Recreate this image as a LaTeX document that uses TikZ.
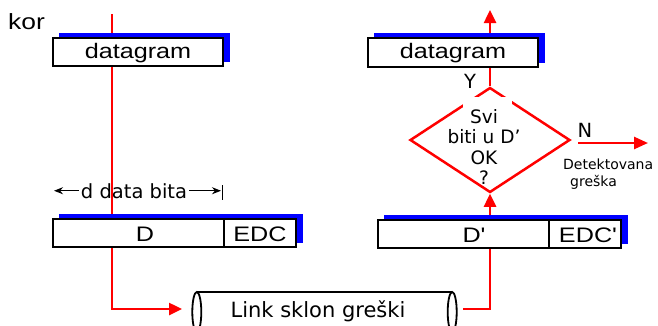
\documentclass[tikz,border=0pt]{standalone}
\usepackage{fontspec}
\setmainfont{Liberation Sans}
\newfontfamily\arialw[FakeStretch=1.2]{Liberation Sans}
\newfontfamily\comic{DejaVu Sans}
\usetikzlibrary{shapes.geometric,arrows.meta,shadows}
\begin{document}
\begin{tikzpicture}[x=1pt,y=-1pt,
  redline/.style={draw=red,line width=2.5pt},
  redtip/.style={-{Triangle[length=13pt,width=12pt]}},
  bshadow/.style={general shadow={fill=blue,draw=blue,line width=0pt,shadow xshift=6.5pt,shadow yshift=4.5pt}},
  framebox/.style={draw=black,line width=1.8pt,fill=white,inner sep=0pt,minimum height=28pt,bshadow},
  cell/.style={draw=black,line width=1.8pt,fill=white,inner sep=0pt,minimum height=28pt},
  boxtext/.style={font=\arialw\fontsize{21}{21}\selectfont,inner sep=0pt,text height=16pt,text depth=0pt},
  comictext/.style={font=\comic\fontsize{#1}{#1}\selectfont,inner sep=0pt},
  blackarrow/.style={line width=1pt,-{Stealth[length=9pt,width=7pt]}}
]
\useasboundingbox (0,0) rectangle (658,325);
\clip (0,0) rectangle (658,325);

% shapes used as endpoints
\node[draw=red,line width=2.5pt,diamond,minimum width=160pt,minimum height=105pt,inner sep=0pt] (dia) at (490,140) {};
\node[inner sep=0pt,minimum width=255pt,minimum height=40pt] (link) at (324.5,312) {};

\coordinate (inL) at (112,14);
\coordinate (linkin) at (182,309);
\coordinate (linkout) at (463,309);
\coordinate (outtop) at (490,10);
\coordinate (nstart) at (578,143);
\coordinate (nend) at (648,143);

% red connectors (drawn under the boxes)
\draw[redline,redtip] (inL) |- (linkin);
\draw[redline,redtip] (linkout) -| (dia.south);
\draw[redline,redtip] (dia.north) -- (outtop);
\draw[redline,-{Triangle[length=14pt,width=12pt]}] (nstart) -- (nend);

% left column boxes
\node[framebox,minimum width=170pt,boxtext,text height=15pt,text depth=3pt] (dgL) at (138,52) {datagram};
\node[framebox,minimum width=243pt] (frL) at (174.5,233) {};
\node[cell,minimum width=72pt,boxtext] (edcL) at (260,233) {EDC};
\node[boxtext] (dL) at (145,233) {D};

% right column boxes
\node[framebox,minimum width=170pt,minimum height=29pt,boxtext,text height=15pt,text depth=3pt] (dgR) at (453,52.5) {datagram};
\node[framebox,minimum width=243pt] (frR) at (499.5,234) {};
\node[cell,minimum width=72pt] (edcR) at (585,234) {};
\node[boxtext] (edcRt) at (588,234) {EDC\char"0027};
\node[boxtext] (dR) at (474,234) {D\char"0027};

% diamond text
\node[font=\comic\fontsize{18.5}{20.5}\selectfont,inner sep=0pt,align=center] (q) at (484,147) {Svi\\biti u D’\\OK\\?};
\fill[white] (463,97) rectangle (512,109);

\node[comictext=19.5] (Y) at (470,81) {Y};
\node[comictext=19.5] (N) at (585,130) {N};
\node[comictext=14,anchor=base west] (det1) at (563,169) {Detektovana};
\node[comictext=14,anchor=base west] (det2) at (570,186) {greška};

% link cylinder
\draw[line width=1.5pt] (link.north west) -- (link.north east);
\draw[line width=1.5pt] (link.south west) -- (link.south east);
\draw[line width=1.8pt] (link.west) ellipse [x radius=4.5pt,y radius=20pt];
\draw[line width=1.8pt] (link.east) ellipse [x radius=4.5pt,y radius=20pt];
\node[comictext=21,anchor=base] (linktxt) at (318,317) {Link sklon greški};

% dimension
\node[font=\comic\fontsize{19.5}{19.5}\selectfont,inner sep=2pt,anchor=base] (dim) at (134,198) {d data bita};
\coordinate (dimL) at (54,192);
\coordinate (dimR) at (221,192);
\draw[blackarrow] (dim.west) -- (dim.west -| dimL);
\draw[blackarrow] (dim.east) -- (dim.east -| dimR);
\coordinate (bar1) at (222.5,185);
\coordinate (bar2) at (222.5,200);
\draw[line width=1pt] (bar1) -- (bar2);

% cut-off heading fragment
\node[font=\arialw\fontsize{22}{22}\selectfont,anchor=base west,inner sep=0pt] (kor) at (8,29) {kor};
\end{tikzpicture}
\end{document}
